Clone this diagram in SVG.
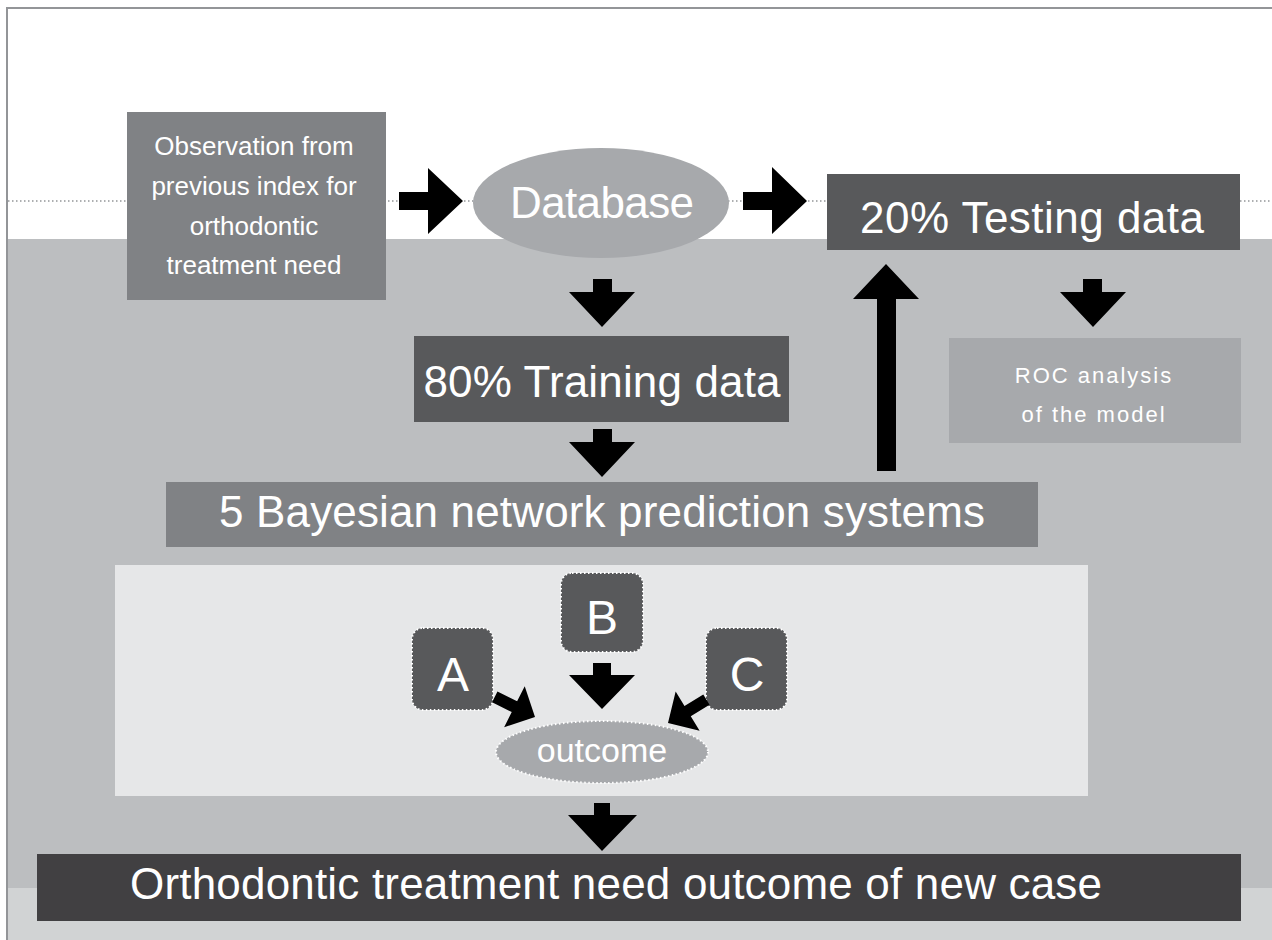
<svg xmlns="http://www.w3.org/2000/svg" width="1272" height="940" viewBox="0 0 1272 940">
  <style>
    text { font-family: "Liberation Sans", Arial, sans-serif; fill: #ffffff; text-anchor: middle; }
    .big { font-size: 44px; }
    .small { font-size: 26px; }
    .roc { font-size: 22px; letter-spacing: 2px; }
    .letter { font-size: 48px; }
    .arrow { fill: #000000; }
    .dots { fill: none; stroke: #ffffff; stroke-width: 2; stroke-dasharray: 1.5 2.5; }
  </style>
  <defs>
    <!-- stubby arrow pointing along +x with its tip at the origin -->
    <polygon id="stub" points="-45,-6 -23,-6 -23,-23 0,0 -23,23 -23,6 -45,6"/>
  </defs>

  <!-- background bands -->
  <rect x="0" y="0" width="1272" height="940" fill="#ffffff"/>
  <rect x="7" y="239" width="1265" height="650" fill="#bcbec0"/>
  <rect x="7" y="888" width="1265" height="52" fill="#d1d3d4"/>
  <path d="M7,940 V8 H1272" fill="none" stroke="#939598" stroke-width="2"/>
  <line x1="8" y1="201" x2="1272" y2="201" stroke="#939598" stroke-width="1.5" stroke-dasharray="1.5 2.5"/>

  <g id="observation">
    <rect x="127" y="112" width="259" height="188" fill="#808285"/>
    <text class="small" x="254" y="155">Observation from</text>
    <text class="small" x="254" y="195">previous index for</text>
    <text class="small" x="254" y="235">orthodontic</text>
    <text class="small" x="254" y="274">treatment need</text>
  </g>

  <g id="database">
    <ellipse cx="601" cy="203" rx="128" ry="55" fill="#a7a9ac"/>
    <text class="big" x="602" y="218" textLength="184">Database</text>
  </g>

  <g id="testing">
    <rect x="827" y="174" width="413" height="76" fill="#58595b"/>
    <text class="big" x="1032" y="233" textLength="344">20% Testing data</text>
  </g>

  <g id="training">
    <rect x="414" y="336" width="375" height="86" fill="#58595b"/>
    <text class="big" x="602" y="397" textLength="357">80% Training data</text>
  </g>

  <g id="roc">
    <rect x="949" y="338" width="292" height="105" fill="#a7a9ac"/>
    <text class="roc" x="1094" y="383">ROC analysis</text>
    <text class="roc" x="1094" y="422">of the model</text>
  </g>

  <g id="bayesian">
    <rect x="166" y="482" width="872" height="65" fill="#808285"/>
    <text class="big" x="602" y="527" textLength="766">5 Bayesian network prediction systems</text>
  </g>

  <g id="network-panel">
    <rect x="115" y="565" width="973" height="231" fill="#e6e7e8"/>
  </g>

  <g id="node-b">
    <rect x="561" y="573" width="82" height="79" rx="11" fill="#58595b"/>
    <rect x="561" y="573" width="82" height="79" rx="11" class="dots"/>
    <text class="letter" x="602" y="634">B</text>
  </g>

  <g id="node-a">
    <rect x="412" y="628" width="81" height="82" rx="11" fill="#58595b"/>
    <rect x="412" y="628" width="81" height="82" rx="11" class="dots"/>
    <text class="letter" x="453" y="691">A</text>
  </g>

  <g id="node-c">
    <rect x="706" y="628" width="81" height="82" rx="11" fill="#58595b"/>
    <rect x="706" y="628" width="81" height="82" rx="11" class="dots"/>
    <text class="letter" x="747" y="691">C</text>
  </g>

  <g id="outcome">
    <ellipse cx="602" cy="752" rx="106" ry="31" fill="#a7a9ac"/>
    <ellipse cx="602" cy="752" rx="106" ry="31" class="dots"/>
    <text x="602" y="762" style="font-size:34px">outcome</text>
  </g>

  <g id="new-case">
    <rect x="37" y="854" width="1204" height="67" fill="#414042"/>
    <text class="big" x="616" y="899" textLength="972">Orthodontic treatment need outcome of new case</text>
  </g>

  <g id="connectors">
    <!-- observation to database -->
    <polygon class="arrow" points="399,192 428,192 428,168 463,201 428,234 428,210 399,210"/>
    <!-- database to testing -->
    <polygon class="arrow" points="743,192 772,192 772,167 807,201 772,234 772,210 743,210"/>
    <!-- database to training -->
    <polygon class="arrow" points="593,279 612,279 612,292 635,292 602,327 569,292 593,292"/>
    <!-- training to bayesian -->
    <polygon class="arrow" points="593,429 612,429 612,442 635,442 602,477 569,442 593,442"/>
    <!-- bayesian up to testing -->
    <polygon class="arrow" points="877,471 877,299 853,299 886,264 919,299 896,299 896,471"/>
    <!-- testing to roc -->
    <polygon class="arrow" points="1083,279 1102,279 1102,292 1126,292 1093,327 1060,292 1083,292"/>
    <!-- B to outcome -->
    <polygon class="arrow" points="593,663 611,663 611,675 635,675 602,709 569,675 593,675"/>
    <!-- A to outcome -->
    <use href="#stub" class="arrow" transform="translate(535,717) rotate(26.6)"/>
    <!-- C to outcome -->
    <use href="#stub" class="arrow" transform="translate(668,723) rotate(148.6)"/>
    <!-- panel to final outcome -->
    <polygon class="arrow" points="594,803 610,803 610,815 637,815 602,851 568,815 594,815"/>
  </g>
</svg>
